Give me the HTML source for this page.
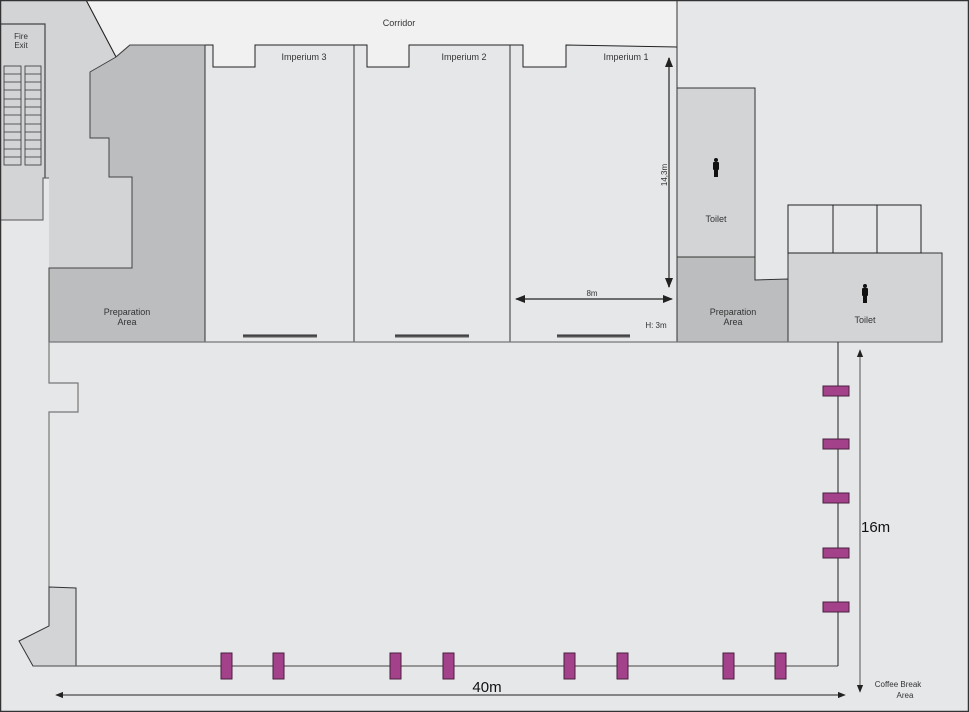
<!DOCTYPE html>
<html><head><meta charset="utf-8"><style>
html,body{margin:0;padding:0;background:#e6e7e9}
svg{display:block}
text{font-family:"Liberation Sans",sans-serif;fill:#333}
</style></head><body>
<svg width="969" height="712" viewBox="0 0 969 712" xmlns="http://www.w3.org/2000/svg">
<defs>
<marker id="ah" viewBox="0 0 10 10" refX="9" refY="5" markerWidth="8" markerHeight="8" markerUnits="userSpaceOnUse" orient="auto-start-reverse"><path d="M0,1 L10,5 L0,9 z" fill="#222"/></marker>
<marker id="ah2" viewBox="0 0 10 10" refX="9" refY="5" markerWidth="10" markerHeight="10" markerUnits="userSpaceOnUse" orient="auto-start-reverse"><path d="M0,1 L10,5 L0,9 z" fill="#222"/></marker>
</defs>
<rect x="0" y="0" width="969" height="712" fill="#e6e7e9"/>
<polygon points="86,0 677,0 677,47 566,45 566,67 523,67 523,45 510,45 409,45 409,67 367,67 367,45 255,45 255,67 213,67 213,45 130,45 116,57" fill="#f1f1f2" stroke="#222" stroke-width="1"/>
<polygon points="0,0 86,0 116,57 90,72 90,138 109,138 109,177 132,177 132,268 49,268 49,178 43,178 43,220 0,220" fill="#d3d4d6" stroke="none"/>
<line x1="86" y1="0" x2="116" y2="57" stroke="#222"/>
<polyline points="0,24 45,24 45,178" fill="none" stroke="#444" stroke-width="1.2"/>
<polyline points="0,220 43,220 43,178 49,178" fill="none" stroke="#555" stroke-width="1"/>
<text x="21" y="39" font-size="8" text-anchor="middle">Fire</text>
<text x="21" y="48" font-size="8" text-anchor="middle">Exit</text>
<g fill="none" stroke="#333" stroke-width="0.8">
<rect x="4" y="66" width="17" height="99"/><rect x="25" y="66" width="16" height="99"/>
<path d="M4,74h17M4,82h17M4,90h17M4,99h17M4,107h17M4,115h17M4,124h17M4,132h17M4,140h17M4,149h17M4,157h17"/>
<path d="M25,74h16M25,82h16M25,90h16M25,99h16M25,107h16M25,115h16M25,124h16M25,132h16M25,140h16M25,149h16M25,157h16"/>
</g>
<polygon points="116,57 130,45 205,45 205,342 49,342 49,268 132,268 132,177 109,177 109,138 90,138 90,72" fill="#bcbdbf" stroke="#444" stroke-width="1"/>
<text x="127" y="315" font-size="9" text-anchor="middle">Preparation</text>
<text x="127" y="325" font-size="9" text-anchor="middle">Area</text>
<g stroke="#333" stroke-width="1">
<line x1="205" y1="45" x2="205" y2="342"/>
<line x1="354" y1="45" x2="354" y2="342"/>
<line x1="510" y1="45" x2="510" y2="342"/>
<line x1="677" y1="0" x2="677" y2="342"/>
</g>
<text x="304" y="60" font-size="9" text-anchor="middle">Imperium 3</text>
<text x="464" y="60" font-size="9" text-anchor="middle">Imperium 2</text>
<text x="626" y="60" font-size="9" text-anchor="middle">Imperium 1</text>
<text x="399" y="26" font-size="9" text-anchor="middle">Corridor</text>
<g stroke="#555" stroke-width="3"><line x1="243" y1="336" x2="317" y2="336"/><line x1="395" y1="336" x2="469" y2="336"/><line x1="557" y1="336" x2="630" y2="336"/></g>
<g stroke="#222" stroke-width="0.8"><line x1="243" y1="335" x2="317" y2="335"/><line x1="395" y1="335" x2="469" y2="335"/><line x1="557" y1="335" x2="630" y2="335"/></g>
<rect x="677" y="88" width="78" height="169" fill="#d3d4d6" stroke="#333"/>
<polygon points="677,257 755,257 755,280 788,279 788,342 677,342" fill="#bcbdbf" stroke="#333"/>
<rect x="788" y="253" width="154" height="89" fill="#d3d4d6" stroke="#333"/>
<g fill="none" stroke="#222"><rect x="788" y="205" width="133" height="48"/><line x1="833" y1="205" x2="833" y2="253"/><line x1="877" y1="205" x2="877" y2="253"/></g>
<text x="716" y="222" font-size="9" text-anchor="middle">Toilet</text>
<text x="733" y="315" font-size="9" text-anchor="middle">Preparation</text>
<text x="733" y="325" font-size="9" text-anchor="middle">Area</text>
<text x="865" y="323" font-size="9" text-anchor="middle">Toilet</text>
<g fill="#111">
<circle cx="716" cy="160" r="2"/><rect x="713" y="162" width="6" height="8" rx="1"/><rect x="714" y="169" width="4" height="8"/>
<circle cx="865" cy="286" r="2"/><rect x="862" y="288" width="6" height="8" rx="1"/><rect x="863" y="295" width="4" height="8"/>
</g>
<line x1="49" y1="342" x2="942" y2="342" stroke="#777" stroke-width="1.2"/>
<polyline points="49,342 49,383 78,383 78,412 49,412 49,587" fill="none" stroke="#777" stroke-width="1.2"/>
<polygon points="49,587 76,588 76,666 33,666 19,641 49,626" fill="#d3d4d6" stroke="#333" stroke-width="1"/>
<line x1="33" y1="666" x2="838" y2="666" stroke="#666" stroke-width="1.2"/>
<line x1="838" y1="342" x2="838" y2="666" stroke="#222" stroke-width="1"/>
<g fill="#a3418a" stroke="#4a1f3e" stroke-width="1">
<rect x="823" y="386" width="26" height="10"/><rect x="823" y="439" width="26" height="10"/><rect x="823" y="493" width="26" height="10"/><rect x="823" y="548" width="26" height="10"/><rect x="823" y="602" width="26" height="10"/>
<rect x="221" y="653" width="11" height="26"/><rect x="273" y="653" width="11" height="26"/><rect x="390" y="653" width="11" height="26"/><rect x="443" y="653" width="11" height="26"/><rect x="564" y="653" width="11" height="26"/><rect x="617" y="653" width="11" height="26"/><rect x="723" y="653" width="11" height="26"/><rect x="775" y="653" width="11" height="26"/>
</g>
<line x1="56" y1="695" x2="845" y2="695" stroke="#222" stroke-width="1" marker-start="url(#ah)" marker-end="url(#ah)"/>
<text x="487" y="692" font-size="15" text-anchor="middle" style="fill:#111">40m</text>
<line x1="860" y1="350" x2="860" y2="692" stroke="#555" stroke-width="1" marker-start="url(#ah)" marker-end="url(#ah)"/>
<text x="861" y="532" font-size="15" style="fill:#111">16m</text>
<line x1="669" y1="58" x2="669" y2="287" stroke="#666" stroke-width="1.8" marker-start="url(#ah2)" marker-end="url(#ah2)"/>
<text x="0" y="0" font-size="8" text-anchor="middle" transform="translate(667,175) rotate(-90)">14,3m</text>
<line x1="516" y1="299" x2="672" y2="299" stroke="#222" stroke-width="1.2" marker-start="url(#ah2)" marker-end="url(#ah2)"/>
<text x="592" y="296" font-size="8" text-anchor="middle">8m</text>
<text x="656" y="328" font-size="8" text-anchor="middle">H: 3m</text>
<text x="898" y="687" font-size="8" text-anchor="middle">Coffee Break</text>
<text x="905" y="698" font-size="8" text-anchor="middle">Area</text>
<rect x="0.5" y="0.5" width="968" height="711" fill="none" stroke="#333" stroke-width="1.5"/>
</svg>
</body></html>
